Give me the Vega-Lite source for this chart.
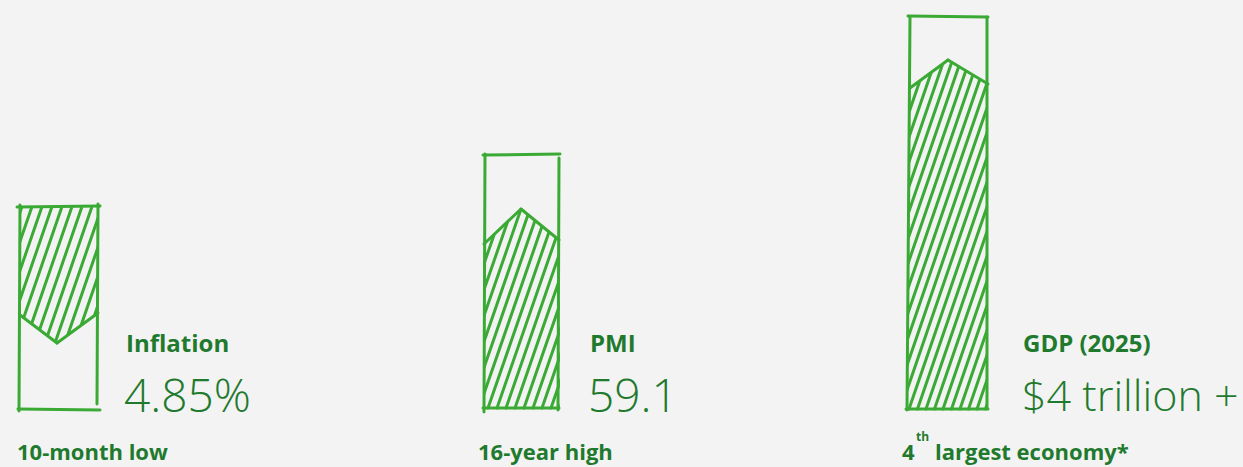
{
  "$schema": "https://vega.github.io/schema/vega-lite/v6.json",
  "autosize": {"type": "fit", "contains": "padding"},
  "width": 1243,
  "height": 467,
  "padding": 0,
  "background": "#f3f3f3",
  "config": {"view": {"stroke": null}},
  "datasets": {
    "hatch": [
      {"bar": "Inflation", "x": -25, "y": 67, "x2": 21.5, "y2": 202},
      {"bar": "Inflation", "x": -15, "y": 67, "x2": 31.5, "y2": 202},
      {"bar": "Inflation", "x": -5, "y": 67, "x2": 41.5, "y2": 202},
      {"bar": "Inflation", "x": 5, "y": 67, "x2": 51.5, "y2": 202},
      {"bar": "Inflation", "x": 15, "y": 67, "x2": 61.5, "y2": 202},
      {"bar": "Inflation", "x": 25, "y": 67, "x2": 71.5, "y2": 202},
      {"bar": "Inflation", "x": 35, "y": 67, "x2": 81.5, "y2": 202},
      {"bar": "Inflation", "x": 45, "y": 67, "x2": 91.5, "y2": 202},
      {"bar": "Inflation", "x": 55, "y": 67, "x2": 101.5, "y2": 202},
      {"bar": "Inflation", "x": 65, "y": 67, "x2": 111.5, "y2": 202},
      {"bar": "Inflation", "x": 75, "y": 67, "x2": 121.5, "y2": 202},
      {"bar": "Inflation", "x": 85, "y": 67, "x2": 131.5, "y2": 202},
      {"bar": "Inflation", "x": 95, "y": 67, "x2": 141.5, "y2": 202},
      {"bar": "PMI", "x": 416, "y": 2, "x2": 485, "y2": 201},
      {"bar": "PMI", "x": 425, "y": 2, "x2": 494, "y2": 201},
      {"bar": "PMI", "x": 434, "y": 2, "x2": 503, "y2": 201},
      {"bar": "PMI", "x": 443, "y": 2, "x2": 512, "y2": 201},
      {"bar": "PMI", "x": 452, "y": 2, "x2": 521, "y2": 201},
      {"bar": "PMI", "x": 461, "y": 2, "x2": 530, "y2": 201},
      {"bar": "PMI", "x": 470, "y": 2, "x2": 539, "y2": 201},
      {"bar": "PMI", "x": 479, "y": 2, "x2": 548, "y2": 201},
      {"bar": "PMI", "x": 488, "y": 2, "x2": 557, "y2": 201},
      {"bar": "PMI", "x": 497, "y": 2, "x2": 566, "y2": 201},
      {"bar": "PMI", "x": 506, "y": 2, "x2": 575, "y2": 201},
      {"bar": "PMI", "x": 515, "y": 2, "x2": 584, "y2": 201},
      {"bar": "PMI", "x": 524, "y": 2, "x2": 593, "y2": 201},
      {"bar": "PMI", "x": 533, "y": 2, "x2": 602, "y2": 201},
      {"bar": "PMI", "x": 542, "y": 2, "x2": 611, "y2": 201},
      {"bar": "PMI", "x": 551, "y": 2, "x2": 620, "y2": 201},
      {"bar": "PMI", "x": 560, "y": 2, "x2": 629, "y2": 201},
      {"bar": "GDP", "x": 790, "y": 1, "x2": 910, "y2": 350},
      {"bar": "GDP", "x": 798.5, "y": 1, "x2": 918.5, "y2": 350},
      {"bar": "GDP", "x": 807, "y": 1, "x2": 927, "y2": 350},
      {"bar": "GDP", "x": 815.5, "y": 1, "x2": 935.5, "y2": 350},
      {"bar": "GDP", "x": 824, "y": 1, "x2": 944, "y2": 350},
      {"bar": "GDP", "x": 832.5, "y": 1, "x2": 952.5, "y2": 350},
      {"bar": "GDP", "x": 841, "y": 1, "x2": 961, "y2": 350},
      {"bar": "GDP", "x": 849.5, "y": 1, "x2": 969.5, "y2": 350},
      {"bar": "GDP", "x": 858, "y": 1, "x2": 978, "y2": 350},
      {"bar": "GDP", "x": 866.5, "y": 1, "x2": 986.5, "y2": 350},
      {"bar": "GDP", "x": 875, "y": 1, "x2": 995, "y2": 350},
      {"bar": "GDP", "x": 883.5, "y": 1, "x2": 1003.5, "y2": 350},
      {"bar": "GDP", "x": 892, "y": 1, "x2": 1012, "y2": 350},
      {"bar": "GDP", "x": 900.5, "y": 1, "x2": 1020.5, "y2": 350},
      {"bar": "GDP", "x": 909, "y": 1, "x2": 1029, "y2": 350},
      {"bar": "GDP", "x": 917.5, "y": 1, "x2": 1037.5, "y2": 350},
      {"bar": "GDP", "x": 926, "y": 1, "x2": 1046, "y2": 350},
      {"bar": "GDP", "x": 934.5, "y": 1, "x2": 1054.5, "y2": 350},
      {"bar": "GDP", "x": 943, "y": 1, "x2": 1063, "y2": 350},
      {"bar": "GDP", "x": 951.5, "y": 1, "x2": 1071.5, "y2": 350},
      {"bar": "GDP", "x": 960, "y": 1, "x2": 1080, "y2": 350},
      {"bar": "GDP", "x": 968.5, "y": 1, "x2": 1088.5, "y2": 350},
      {"bar": "GDP", "x": 977, "y": 1, "x2": 1097, "y2": 350},
      {"bar": "GDP", "x": 985.5, "y": 1, "x2": 1105.5, "y2": 350}
    ],
    "masks": [
      {"bar": "Inflation", "x": -60, "x2": 19, "y": 60, "y2": 210},
      {"bar": "Inflation", "x": 99, "x2": 160, "y": 60, "y2": 210},
      {"bar": "PMI", "x": 400, "x2": 483, "y": -5, "y2": 206},
      {"bar": "PMI", "x": 560, "x2": 640, "y": -5, "y2": 206},
      {"bar": "GDP", "x": 770, "x2": 908, "y": -5, "y2": 356},
      {"bar": "GDP", "x": 988, "x2": 1120, "y": -5, "y2": 356}
    ],
    "caps": [
      {"bar": "Inflation", "x": 19, "y": 95.8, "y2": 60},
      {"bar": "Inflation", "x": 57, "y": 67, "y2": 60},
      {"bar": "Inflation", "x": 99, "y": 97.7, "y2": 60},
      {"bar": "PMI", "x": 483, "y": 165, "y2": 206},
      {"bar": "PMI", "x": 521, "y": 201, "y2": 206},
      {"bar": "PMI", "x": 560, "y": 169.2, "y2": 206},
      {"bar": "GDP", "x": 908, "y": 320.5, "y2": 356},
      {"bar": "GDP", "x": 948, "y": 350, "y2": 356},
      {"bar": "GDP", "x": 988, "y": 326, "y2": 356}
    ],
    "strokes": [
      {"bar": "Inflation", "x": 17, "y": 203, "x2": 100, "y2": 204},
      {"bar": "Inflation", "x": 20, "y": 205, "x2": 19, "y2": -1},
      {"bar": "Inflation", "x": 98, "y": 206, "x2": 97, "y2": 6},
      {"bar": "Inflation", "x": 18, "y": 1, "x2": 100, "y2": 0},
      {"bar": "Inflation", "x": 20, "y": 95, "x2": 57, "y2": 67},
      {"bar": "Inflation", "x": 57, "y": 67, "x2": 98, "y2": 97},
      {"bar": "PMI", "x": 483, "y": 255, "x2": 560, "y2": 256},
      {"bar": "PMI", "x": 485, "y": 256, "x2": 484, "y2": -2},
      {"bar": "PMI", "x": 559, "y": 252, "x2": 558, "y2": 0},
      {"bar": "PMI", "x": 483, "y": 2, "x2": 559, "y2": 2},
      {"bar": "PMI", "x": 484, "y": 166, "x2": 521, "y2": 201},
      {"bar": "PMI", "x": 521, "y": 201, "x2": 559, "y2": 170},
      {"bar": "GDP", "x": 908, "y": 394, "x2": 988, "y2": 393},
      {"bar": "GDP", "x": 910, "y": 393, "x2": 907, "y2": 0},
      {"bar": "GDP", "x": 987, "y": 393, "x2": 987, "y2": 2},
      {"bar": "GDP", "x": 906, "y": 1, "x2": 988, "y2": 1},
      {"bar": "GDP", "x": 910, "y": 322, "x2": 948, "y2": 350},
      {"bar": "GDP", "x": 948, "y": 350, "x2": 988, "y2": 326}
    ],
    "labels": [
      {"text": "Inflation", "x": 126, "y": 58, "style": "title"},
      {"text": "4.85%", "x": 124, "y": -2, "style": "value"},
      {"text": "10-month low", "x": 17, "y": -50, "style": "note"},
      {"text": "PMI", "x": 590, "y": 58, "style": "title"},
      {"text": "59.1", "x": 588, "y": -2, "style": "value"},
      {"text": "16-year high", "x": 478, "y": -50, "style": "note"},
      {"text": "GDP (2025)", "x": 1023, "y": 58, "style": "title"},
      {"text": "$4 trillion +", "x": 1022, "y": -1, "style": "valuesm"},
      {"text": "4", "x": 902, "y": -50, "style": "note"},
      {"text": "th", "x": 916, "y": -31, "style": "sup"},
      {"text": "largest economy*", "x": 935, "y": -50, "style": "note"}
    ]
  },
  "layer": [
    {
      "data": {"name": "hatch"},
      "mark": {"type": "rule", "stroke": "#3aaa35", "strokeWidth": 3, "strokeCap": "round", "clip": true},
      "encoding": {
        "x": {"field": "x", "type": "quantitative", "scale": {"domain": [0, 1243], "nice": false, "zero": false}, "axis": null},
        "y": {"field": "y", "type": "quantitative", "scale": {"domain": [-57, 410], "nice": false, "zero": false}, "axis": null},
        "x2": {"field": "x2"},
        "y2": {"field": "y2"}
      }
    },
    {
      "data": {"name": "masks"},
      "mark": {"type": "rect", "fill": "#f3f3f3", "clip": true},
      "encoding": {
        "x": {"field": "x", "type": "quantitative", "scale": {"domain": [0, 1243], "nice": false, "zero": false}, "axis": null},
        "y": {"field": "y", "type": "quantitative", "scale": {"domain": [-57, 410], "nice": false, "zero": false}, "axis": null},
        "x2": {"field": "x2"},
        "y2": {"field": "y2"}
      }
    },
    {
      "data": {"name": "caps"},
      "mark": {"type": "area", "fill": "#f3f3f3", "clip": true},
      "encoding": {
        "x": {"field": "x", "type": "quantitative", "scale": {"domain": [0, 1243], "nice": false, "zero": false}, "axis": null},
        "y": {"field": "y", "type": "quantitative", "scale": {"domain": [-57, 410], "nice": false, "zero": false}, "axis": null},
        "y2": {"field": "y2"},
        "detail": {"field": "bar"}
      }
    },
    {
      "data": {"name": "strokes"},
      "mark": {"type": "rule", "stroke": "#3aaa35", "strokeWidth": 3, "strokeCap": "round"},
      "encoding": {
        "x": {"field": "x", "type": "quantitative", "scale": {"domain": [0, 1243], "nice": false, "zero": false}, "axis": null},
        "y": {"field": "y", "type": "quantitative", "scale": {"domain": [-57, 410], "nice": false, "zero": false}, "axis": null},
        "x2": {"field": "x2"},
        "y2": {"field": "y2"}
      }
    },
    {
      "data": {"name": "labels"},
      "transform": [{"filter": "datum.style === 'title'"}],
      "mark": {"type": "text", "align": "left", "baseline": "alphabetic", "font": "Open Sans", "fontWeight": 700, "fontSize": 24, "fill": "#1f7a2e"},
      "encoding": {
        "x": {"field": "x", "type": "quantitative", "scale": {"domain": [0, 1243], "nice": false, "zero": false}, "axis": null},
        "y": {"field": "y", "type": "quantitative", "scale": {"domain": [-57, 410], "nice": false, "zero": false}, "axis": null},
        "text": {"field": "text"}
      }
    },
    {
      "data": {"name": "labels"},
      "transform": [{"filter": "datum.style === 'value'"}],
      "mark": {"type": "text", "align": "left", "baseline": "alphabetic", "font": "Open Sans", "fontWeight": 300, "fontSize": 46, "fill": "#1f7a2e"},
      "encoding": {
        "x": {"field": "x", "type": "quantitative", "scale": {"domain": [0, 1243], "nice": false, "zero": false}, "axis": null},
        "y": {"field": "y", "type": "quantitative", "scale": {"domain": [-57, 410], "nice": false, "zero": false}, "axis": null},
        "text": {"field": "text"}
      }
    },
    {
      "data": {"name": "labels"},
      "transform": [{"filter": "datum.style === 'valuesm'"}],
      "mark": {"type": "text", "align": "left", "baseline": "alphabetic", "font": "Open Sans", "fontWeight": 300, "fontSize": 43, "fill": "#1f7a2e"},
      "encoding": {
        "x": {"field": "x", "type": "quantitative", "scale": {"domain": [0, 1243], "nice": false, "zero": false}, "axis": null},
        "y": {"field": "y", "type": "quantitative", "scale": {"domain": [-57, 410], "nice": false, "zero": false}, "axis": null},
        "text": {"field": "text"}
      }
    },
    {
      "data": {"name": "labels"},
      "transform": [{"filter": "datum.style === 'note'"}],
      "mark": {"type": "text", "align": "left", "baseline": "alphabetic", "font": "Open Sans", "fontWeight": 700, "fontSize": 22, "fill": "#1f7a2e"},
      "encoding": {
        "x": {"field": "x", "type": "quantitative", "scale": {"domain": [0, 1243], "nice": false, "zero": false}, "axis": null},
        "y": {"field": "y", "type": "quantitative", "scale": {"domain": [-57, 410], "nice": false, "zero": false}, "axis": null},
        "text": {"field": "text"}
      }
    },
    {
      "data": {"name": "labels"},
      "transform": [{"filter": "datum.style === 'sup'"}],
      "mark": {"type": "text", "align": "left", "baseline": "alphabetic", "font": "Open Sans", "fontWeight": 700, "fontSize": 12, "fill": "#1f7a2e"},
      "encoding": {
        "x": {"field": "x", "type": "quantitative", "scale": {"domain": [0, 1243], "nice": false, "zero": false}, "axis": null},
        "y": {"field": "y", "type": "quantitative", "scale": {"domain": [-57, 410], "nice": false, "zero": false}, "axis": null},
        "text": {"field": "text"}
      }
    }
  ]
}
